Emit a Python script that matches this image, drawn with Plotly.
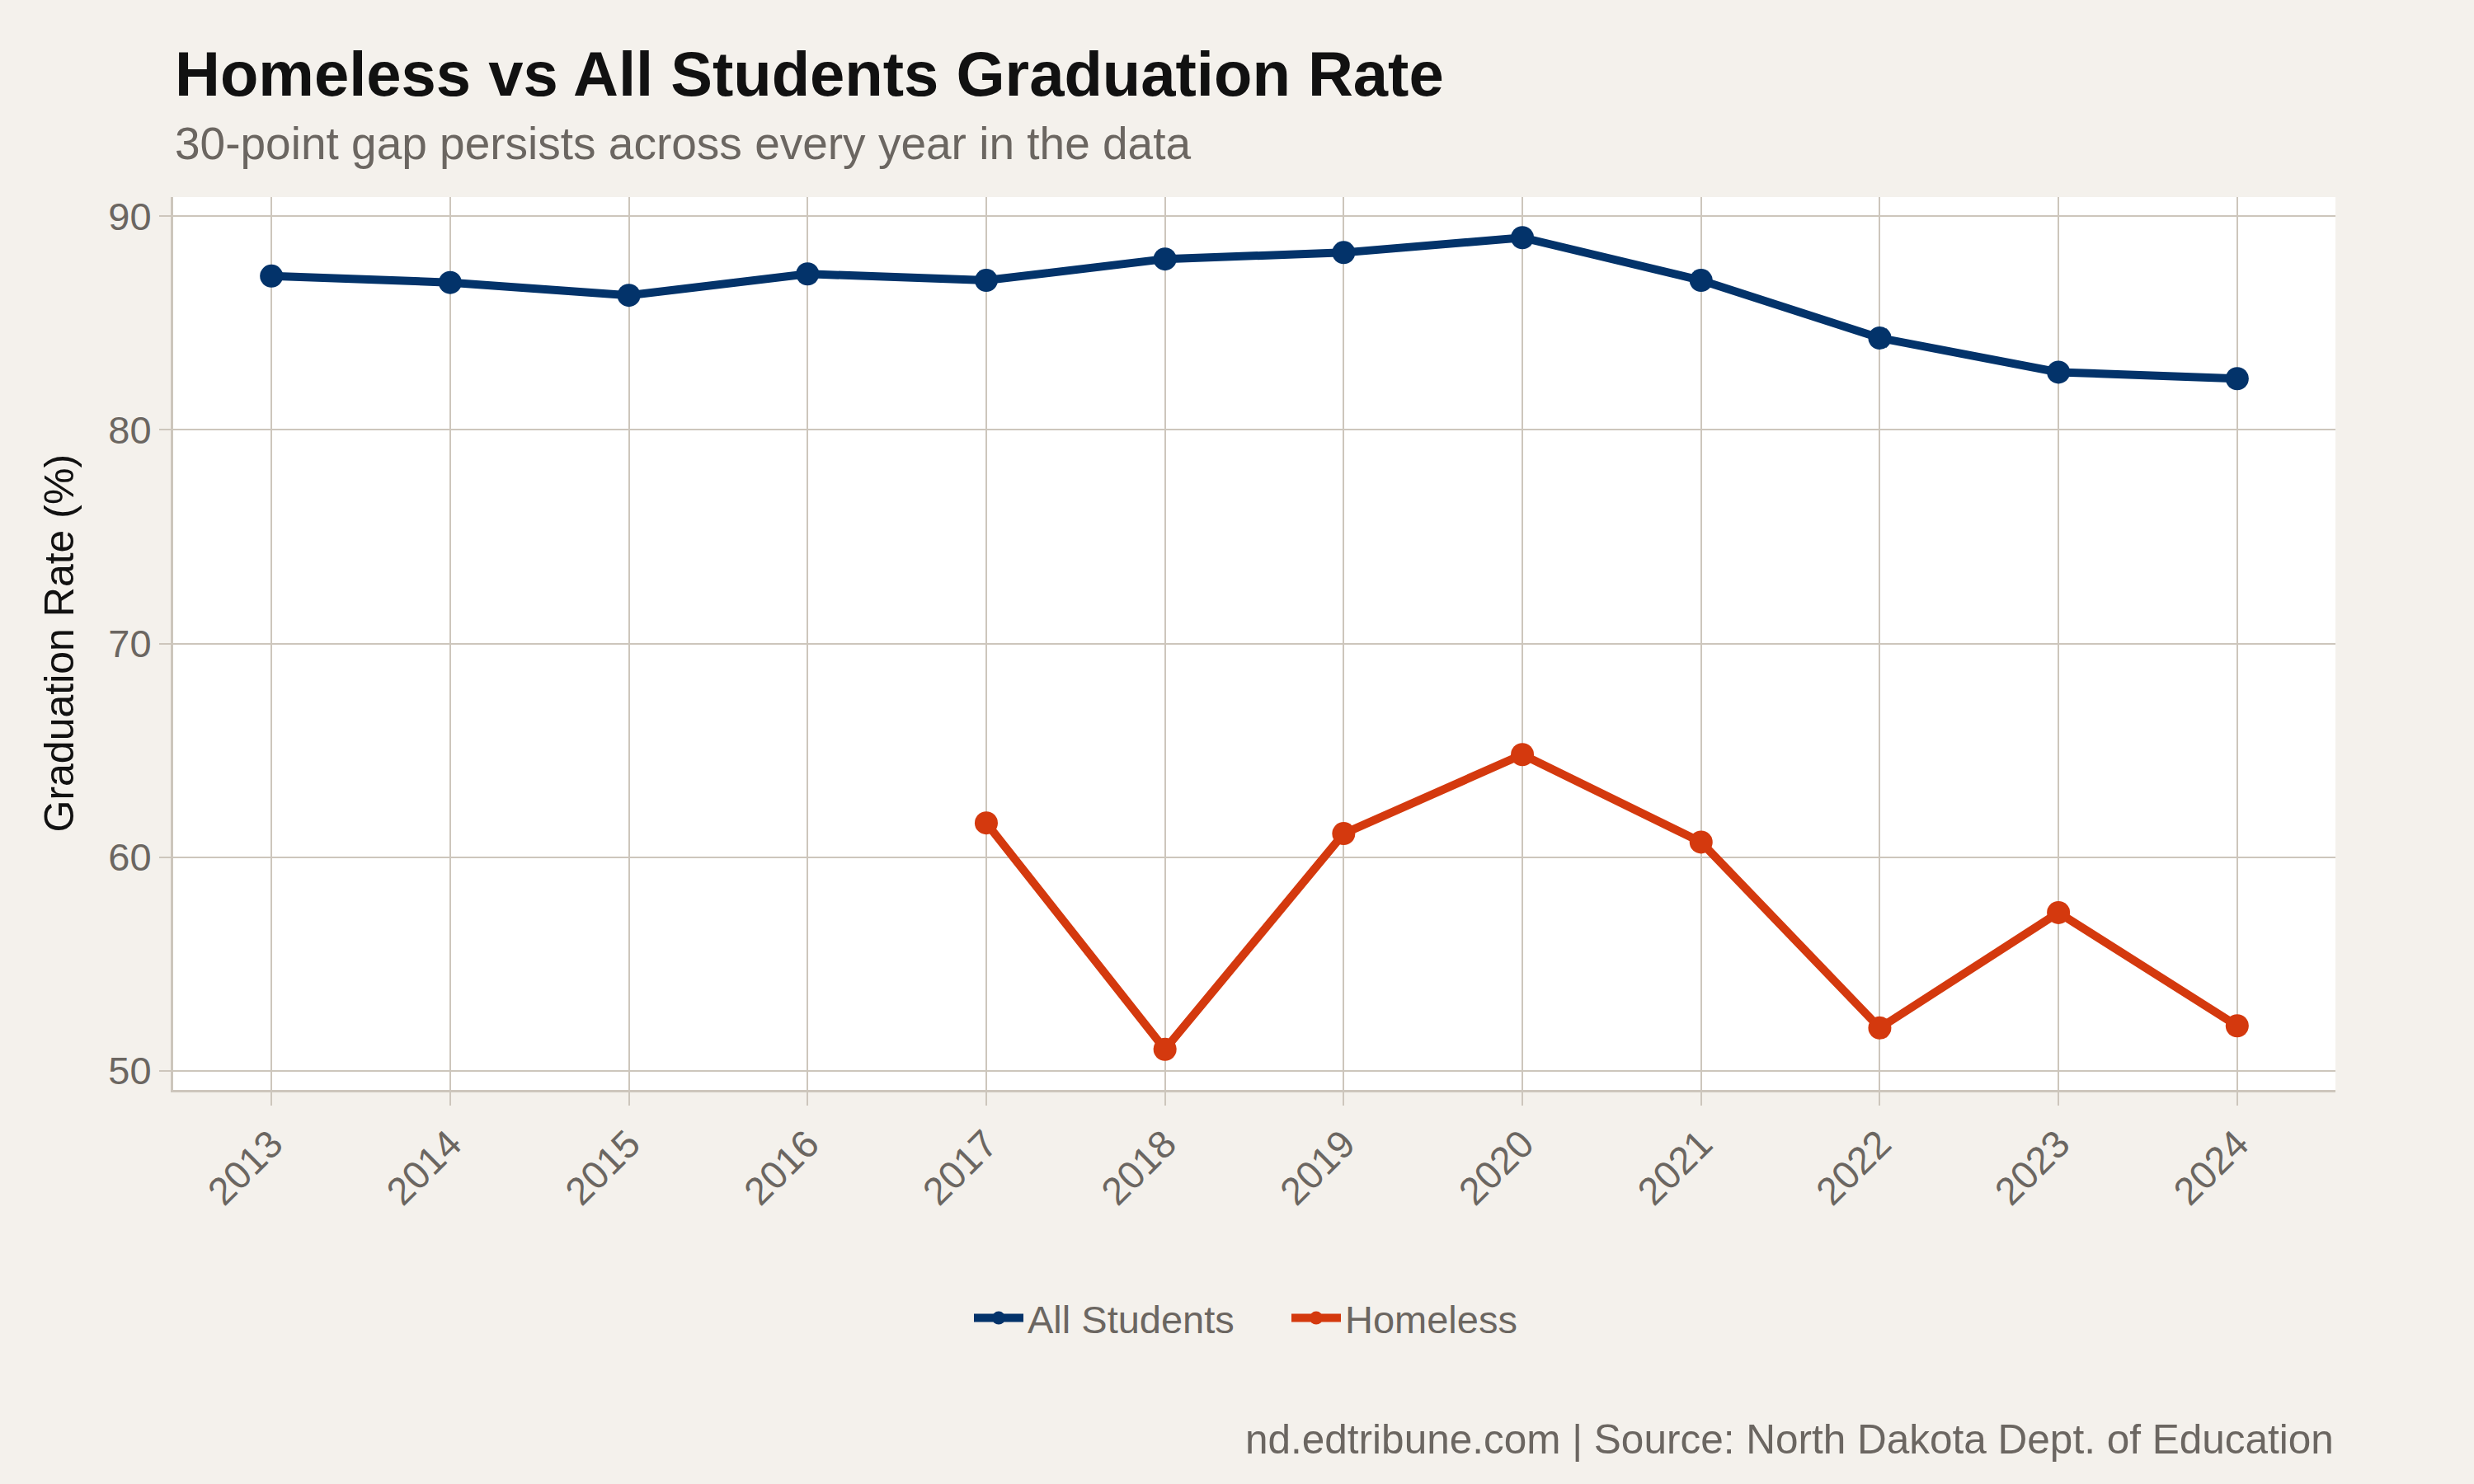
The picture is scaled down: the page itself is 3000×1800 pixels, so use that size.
import plotly.graph_objects as go

years = [2013, 2014, 2015, 2016, 2017, 2018, 2019, 2020, 2021, 2022, 2023, 2024]
all_students = [87.2, 86.9, 86.3, 87.3, 87.0, 88.0, 88.3, 89.0, 87.0, 84.3, 82.7, 82.4]
homeless_years = [2017, 2018, 2019, 2020, 2021, 2022, 2023, 2024]
homeless = [61.6, 51.0, 61.1, 64.8, 60.7, 52.0, 57.4, 52.1]
y_ticks = [50, 60, 70, 80, 90]

NAVY = "#03336A"
ORANGE = "#D4390E"
BG = "#F4F1EC"
GRID = "#CDC6BC"
GRAY = "#6B6661"
FONT = "Liberation Sans"

W, H = 3000, 1800
L, R, T, B = 210, 168, 239, 478
ph = H - T - B
pw = W - L - R

def py(full_y):
    return (H - B - full_y) / ph

fig = go.Figure()
fig.add_trace(go.Scatter(
    x=years, y=all_students, mode="lines+markers", name="All Students",
    line=dict(color=NAVY, width=10), marker=dict(color=NAVY, size=28),
))
fig.add_trace(go.Scatter(
    x=homeless_years, y=homeless, mode="lines+markers", name="Homeless",
    line=dict(color=ORANGE, width=10), marker=dict(color=ORANGE, size=28),
))

fig.update_layout(
    width=W, height=H,
    margin=dict(l=L, r=R, t=T, b=B),
    paper_bgcolor=BG, plot_bgcolor="white",
    font=dict(family=FONT, color=GRAY, size=46),
    showlegend=True,
    legend=dict(orientation="h", x=(1176 - L) / pw, xanchor="left", y=py(1599), yanchor="middle",
                font=dict(size=47, color=GRAY), itemwidth=60, bgcolor="rgba(0,0,0,0)",
                entrywidth=310, entrywidthmode="pixels", tracegroupgap=0),
    xaxis=dict(range=[2012.45, 2024.55], tickvals=years, ticktext=[str(y) for y in years],
               tickangle=-45, showgrid=True, gridcolor=GRID, gridwidth=2,
               showline=True, linecolor=GRID, linewidth=3,
               ticks="outside", ticklen=16, tickwidth=2, tickcolor=GRID,
               tickfont=dict(size=47, color=GRAY), zeroline=False),
    yaxis=dict(range=[49.1, 90.9], tickvals=y_ticks, showgrid=True, gridcolor=GRID, gridwidth=2,
               showline=True, linecolor=GRID, linewidth=3,
               ticks="outside", ticklen=14, tickwidth=2, tickcolor=GRID,
               tickfont=dict(size=47, color=GRAY), zeroline=False),
    annotations=[
        dict(text="<b>Homeless vs All Students Graduation Rate</b>", xref="paper", yref="paper",
             x=0, y=py(90), xanchor="left", yanchor="middle", showarrow=False,
             font=dict(size=76, color="#111111", family=FONT)),
        dict(text="30-point gap persists across every year in the data", xref="paper", yref="paper",
             x=0, y=py(174), xanchor="left", yanchor="middle", showarrow=False,
             font=dict(size=55, color=GRAY, family=FONT)),
        dict(text="Graduation Rate (%)", xref="paper", yref="paper",
             x=(71 - L) / pw, y=0.5, xanchor="center", yanchor="middle",
             textangle=-90, showarrow=False, font=dict(size=50, color="#111111", family=FONT)),
        dict(text="nd.edtribune.com | Source: North Dakota Dept. of Education", xref="paper", yref="paper",
             x=1, y=py(1745), xanchor="right", yanchor="middle", showarrow=False,
             font=dict(size=49.5, color=GRAY, family=FONT)),
    ],
)

fig.write_html("out.html")
